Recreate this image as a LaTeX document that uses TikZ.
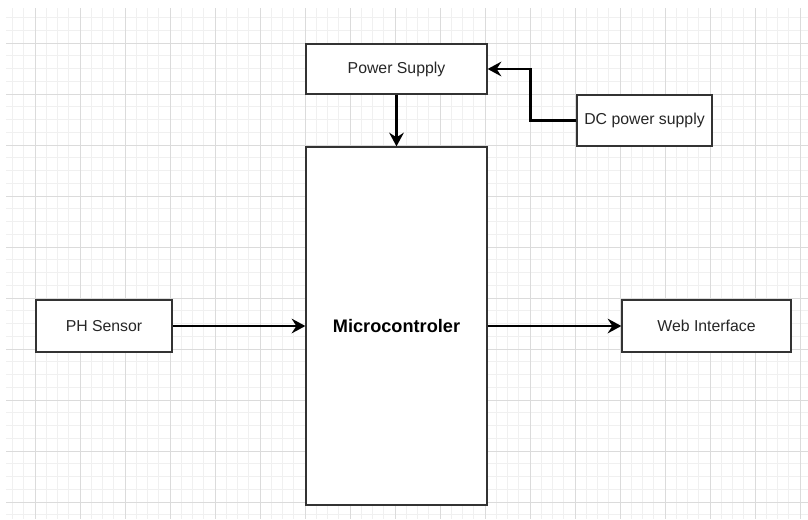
\documentclass[tikz,border=0pt]{standalone}
\usepackage{fontspec}
\setmainfont{Liberation Sans}
\usetikzlibrary{arrows.meta}

\begin{document}
\begin{tikzpicture} [x = 0.03cm, y = -0.03cm,
	block/.style = {draw = black!80, line width = 1.1pt, fill = white, inner sep = 0pt,
		font = \fontsize{13.5}{16}\selectfont, text = black!85},
	flow/.style = {line width = 2pt, -{Stealth[length = 4.1mm, width = 4.4mm, inset = 1.4mm]}},
	minorline/.style = {draw = black!6, line width = 0.6pt},
	majorline/.style = {draw = black!14, line width = 0.7pt}]
	\useasboundingbox (0,0) rectangle (808,519);
	
	% grid paper
	\begin{scope}
		\clip (6,8) rectangle (808,519);
		\foreach \i in {-2,...,69} \draw [minorline] (35+11.25*\i,0) -- (35+11.25*\i,519);
		\foreach \j in {-3,...,37} \draw [minorline] (0,43+12.75*\j) -- (808,43+12.75*\j);
		\foreach \i in {0,...,17} \draw [majorline] (35+45*\i,0) -- (35+45*\i,519);
		\foreach \j in {0,...,9} \draw [majorline] (0,43+51*\j) -- (808,43+51*\j);
	\end{scope}
	
	\node [block, minimum width = 5.43cm, minimum height = 1.5cm] (psu) at (396.5,69) {Power Supply};
	\node [block, minimum width = 4.05cm, minimum height = 1.53cm] (dc) at (644.5,120.5) {DC power supply};
	\node [block, minimum width = 5.43cm, minimum height = 10.74cm, font = \fontsize{15.5}{18}\selectfont\bfseries, text = black] (mcu) at (396.5,326) {Microcontroler};
	\node [block, minimum width = 4.08cm, minimum height = 1.56cm] (ph) at (104,326) {PH Sensor};
	\node [block, minimum width = 5.07cm, minimum height = 1.56cm] (web) at (706.5,326) {Web Interface};
	
	\draw [flow] (dc.west) -- ++(-46,0) |- (psu.east);
	\draw [flow] (psu.south) -- (mcu.north);
	\draw [flow] (ph.east) -- (ph.east -| mcu.west);
	\draw [flow] (mcu.east |- web.west) -- (web.west);
\end{tikzpicture}
\end{document}
